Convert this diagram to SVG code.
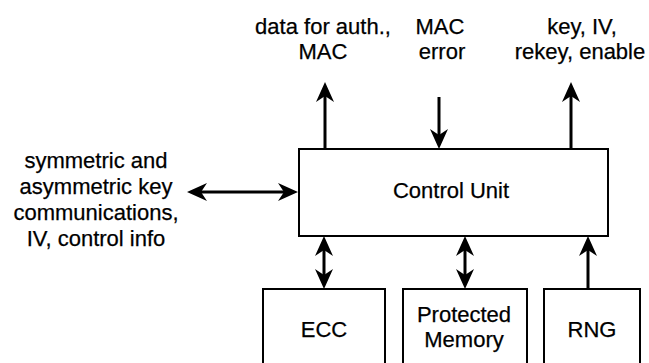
<svg xmlns="http://www.w3.org/2000/svg" width="649" height="363" viewBox="0 0 649 363">
<style>
.box{fill:#fff;stroke:#000;stroke-width:2}
.t{font-family:"Liberation Sans",Arial,sans-serif;font-size:22px;fill:#000;text-anchor:middle;stroke:#000;stroke-width:0.25}
.c{stroke:#000;stroke-width:3;fill:none}
</style>
<defs>
<marker id="ah" markerUnits="userSpaceOnUse" markerWidth="34" markerHeight="34" viewBox="-22 -14 34 28" refX="0" refY="0" orient="auto-start-reverse" overflow="visible">
<path d="M6,0 L-14,-9 L-8,0 L-14,9 Z" fill="#000"/>
</marker>
</defs>
<rect width="649" height="363" fill="#fff"/>
<g id="control-unit">
<rect class="box" x="299" y="149" width="309" height="87"/>
<text class="t" x="451" y="198">Control Unit</text>
</g>
<g id="ecc">
<rect class="box" x="263" y="289" width="122" height="90"/>
<text class="t" x="324" y="337">ECC</text>
</g>
<g id="protected-memory">
<rect class="box" x="403" y="289" width="124" height="90"/>
<text class="t" x="464" y="322">Protected</text>
<text class="t" x="464" y="347">Memory</text>
</g>
<g id="rng">
<rect class="box" x="544" y="289" width="96" height="90"/>
<text class="t" x="592" y="337">RNG</text>
</g>
<g id="labels">
<text class="t" x="323" y="34">data for auth.,</text>
<text class="t" x="323" y="59">MAC</text>
<text class="t" x="440" y="34">MAC</text>
<text class="t" x="442" y="59">error</text>
<text class="t" x="582" y="34">key, IV,</text>
<text class="t" x="580" y="59">rekey, enable</text>
<text class="t" x="96" y="168">symmetric and</text>
<text class="t" x="96" y="194">asymmetric key</text>
<text class="t" x="96" y="220">communications,</text>
<text class="t" x="96" y="246">IV, control info</text>
</g>
<g id="connectors">
<line class="c" x1="325" y1="149" x2="325" y2="88" marker-end="url(#ah)"/>
<line class="c" x1="439" y1="97" x2="439" y2="143" marker-end="url(#ah)"/>
<line class="c" x1="571" y1="149" x2="571" y2="88" marker-end="url(#ah)"/>
<line class="c" x1="193" y1="192" x2="292" y2="192" marker-start="url(#ah)" marker-end="url(#ah)"/>
<line class="c" x1="324" y1="242" x2="324" y2="283" marker-start="url(#ah)" marker-end="url(#ah)"/>
<line class="c" x1="465" y1="242" x2="465" y2="283" marker-start="url(#ah)" marker-end="url(#ah)"/>
<line class="c" x1="588" y1="289" x2="588" y2="242" marker-end="url(#ah)"/>
</g>
</svg>
